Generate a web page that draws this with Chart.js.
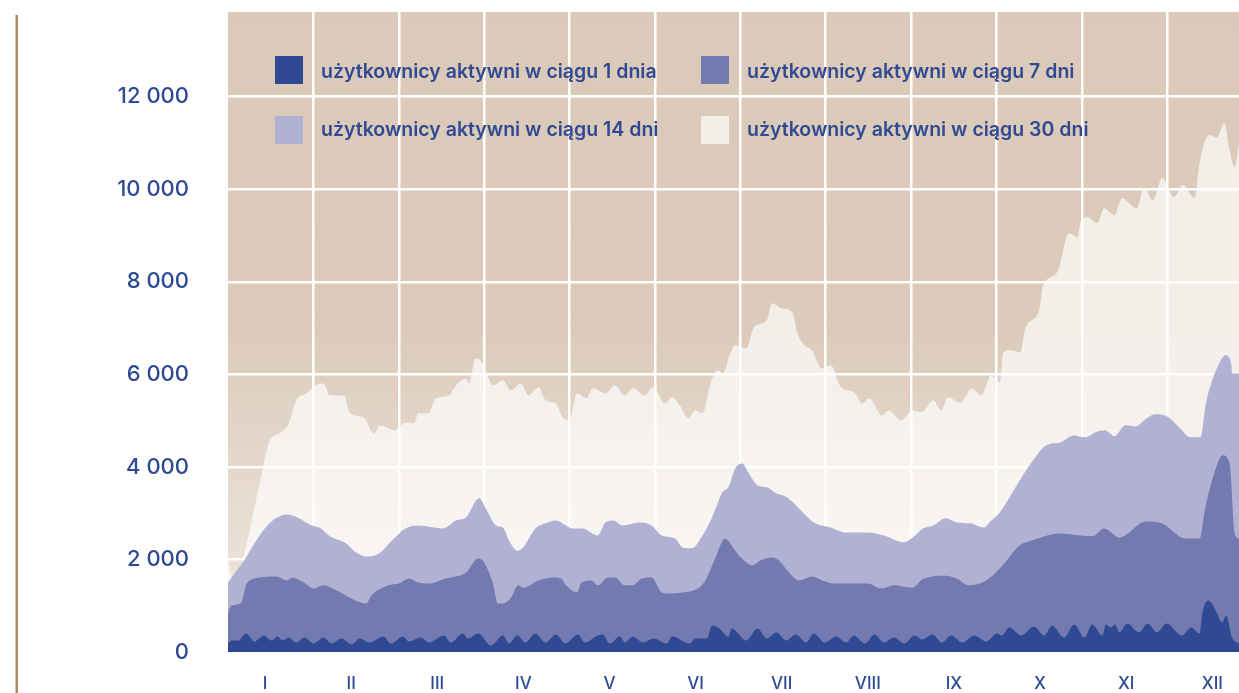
<!DOCTYPE html>
<html lang="pl">
<head>
<meta charset="utf-8">
<title>Użytkownicy aktywni</title>
<script src="https://cdn.jsdelivr.net/npm/chart.js@4.4.1/dist/chart.umd.min.js"></script>
<style>
  html, body { margin: 0; padding: 0; background: #ffffff; }
  #wrap { width: 1239px; height: 693px; }
</style>
</head>
<body>
<div id="wrap"><canvas id="activeChart" width="1239" height="693"></canvas></div>
<script>
// --------------------------------
// Data (x = position in months, 0 = 1 January)
// --------------------------------
const monthLabels = ['I', 'II', 'III', 'IV', 'V', 'VI', 'VII', 'VIII', 'IX', 'X', 'XI', 'XII'];
const monthBounds = [1, 2, 3, 4, 5, 6, 7, 8, 9, 10, 11];
const yTicks = [0, 2000, 4000, 6000, 8000, 10000, 12000];

const seriesLabels = [
    'użytkownicy aktywni w ciągu 1 dnia',
    'użytkownicy aktywni w ciągu 7 dni',
    'użytkownicy aktywni w ciągu 14 dni',
    'użytkownicy aktywni w ciągu 30 dni'
];

// active within 1 day
const x1 = [0, 0.04, 0.12, 0.21, 0.31, 0.42, 0.51, 0.58, 0.64, 0.71, 0.80, 0.90, 1.00, 1.12, 1.21, 1.33, 1.45, 1.54, 1.66, 1.82,
    1.91, 2.05, 2.12, 2.26, 2.35, 2.53, 2.61, 2.75, 2.81, 2.93, 3.08, 3.22, 3.29, 3.39, 3.48, 3.60, 3.72, 3.84, 3.95, 4.10,
    4.18, 4.33, 4.39, 4.47, 4.59, 4.65, 4.74, 4.86, 4.98, 5.14, 5.20, 5.41, 5.47, 5.61, 5.67, 5.74, 5.86, 5.90, 5.94, 6.07,
    6.20, 6.31, 6.42, 6.54, 6.65, 6.77, 6.86, 6.99, 7.12, 7.24, 7.33, 7.46, 7.57, 7.68, 7.80, 7.92, 8.04, 8.13, 8.25, 8.36,
    8.47, 8.60, 8.74, 8.88, 9.01, 9.06, 9.15, 9.29, 9.44, 9.56, 9.65, 9.79, 9.91, 10.03, 10.12, 10.24, 10.28, 10.34, 10.39, 10.44,
    10.53, 10.67, 10.77, 10.88, 10.99, 11.17, 11.28, 11.38, 11.41, 11.48, 11.58, 11.64, 11.69, 11.76, 11.84];
const v1 = [184, 249, 249, 400, 227, 357, 249, 335, 249, 313, 205, 313, 184, 313, 184, 292, 162, 292, 205, 335,
    184, 335, 227, 313, 205, 357, 205, 400, 292, 400, 141, 357, 184, 357, 205, 400, 205, 378, 184, 378,
    205, 357, 378, 184, 335, 205, 335, 205, 292, 184, 335, 184, 292, 292, 573, 530, 335, 508, 465, 249,
    508, 292, 422, 249, 378, 205, 400, 205, 335, 205, 357, 184, 378, 205, 313, 184, 357, 270, 378, 205,
    357, 205, 357, 227, 400, 357, 530, 357, 551, 357, 573, 313, 595, 313, 595, 357, 595, 530, 595, 422,
    616, 422, 616, 422, 616, 357, 530, 400, 832, 1113, 854, 638, 789, 313, 184];

// active within 7 days
const x7 = [0, 0.04, 0.15, 0.22, 0.37, 0.57, 0.69, 0.75, 0.89, 1.00, 1.12, 1.27, 1.62, 1.68, 1.88, 2.00, 2.12, 2.23, 2.35, 2.55,
    2.79, 2.93, 2.98, 3.10, 3.16, 3.22, 3.31, 3.40, 3.46, 3.64, 3.81, 3.90, 3.96, 4.09, 4.14, 4.26, 4.33, 4.45, 4.53, 4.65,
    4.73, 4.85, 4.96, 5.08, 5.15, 5.32, 5.50, 5.59, 5.71, 5.82, 5.94, 6.02, 6.14, 6.24, 6.37, 6.45, 6.55, 6.69, 6.84, 6.96,
    7.10, 7.33, 7.49, 7.65, 7.80, 8.01, 8.15, 8.41, 8.53, 8.68, 8.88, 9.07, 9.27, 9.42, 9.73, 10.12, 10.26, 10.44, 10.75, 10.91,
    11.22, 11.38, 11.44, 11.55, 11.65, 11.73, 11.79, 11.84];
const v7 = [830, 1005, 1050, 1480, 1610, 1630, 1545, 1610, 1500, 1370, 1440, 1330, 1050, 1220, 1440, 1480, 1590, 1500, 1480, 1590,
    1720, 2020, 1980, 1500, 1050, 1050, 1160, 1440, 1390, 1545, 1610, 1590, 1440, 1285, 1500, 1545, 1440, 1610, 1610, 1440,
    1440, 1590, 1610, 1285, 1265, 1285, 1370, 1545, 2040, 2450, 2190, 2020, 1870, 1980, 2040, 1980, 1760, 1545, 1630, 1545,
    1480, 1480, 1480, 1370, 1440, 1390, 1590, 1650, 1590, 1440, 1545, 1870, 2300, 2410, 2560, 2500, 2670, 2475, 2820, 2800,
    2450, 2450, 3060, 3860, 4250, 4075, 2560, 2450];

// active within 14 days
const x14 = [0, 0.21, 0.28, 0.44, 0.56, 0.69, 0.83, 0.97, 1.09, 1.18, 1.38, 1.50, 1.62, 1.77, 1.92, 2.08, 2.23, 2.52, 2.67, 2.79,
    2.94, 3.02, 3.14, 3.22, 3.29, 3.39, 3.45, 3.60, 3.72, 3.84, 3.96, 4.03, 4.15, 4.33, 4.42, 4.51, 4.62, 4.82, 4.96, 5.08,
    5.24, 5.32, 5.43, 5.50, 5.67, 5.79, 5.86, 5.94, 6.02, 6.10, 6.20, 6.31, 6.42, 6.55, 6.71, 6.86, 7.06, 7.22, 7.49, 7.68,
    7.92, 8.02, 8.14, 8.26, 8.41, 8.53, 8.69, 8.85, 8.94, 9.04, 9.20, 9.31, 9.45, 9.58, 9.75, 9.90, 10.04, 10.16, 10.27, 10.38,
    10.51, 10.63, 10.73, 10.86, 11.00, 11.14, 11.27, 11.39, 11.45, 11.53, 11.62, 11.68, 11.75, 11.76, 11.84];
const v14 = [1500, 2040, 2260, 2690, 2890, 2970, 2890, 2740, 2670, 2520, 2350, 2150, 2065, 2130, 2410, 2670, 2735, 2670, 2840, 2910,
    3320, 3100, 2735, 2690, 2410, 2190, 2240, 2670, 2780, 2840, 2735, 2670, 2670, 2520, 2800, 2840, 2735, 2800, 2735, 2520,
    2450, 2260, 2240, 2350, 2910, 3450, 3560, 3970, 4075, 3860, 3600, 3560, 3430, 3340, 3060, 2800, 2690, 2585, 2585, 2520,
    2370, 2480, 2670, 2735, 2890, 2800, 2780, 2690, 2840, 3020, 3490, 3820, 4200, 4465, 4530, 4680, 4640, 4750, 4790, 4660,
    4900, 4875, 5005, 5135, 5090, 4855, 4640, 4640, 5350, 5890, 6280, 6410, 6220, 6020, 6020];

// active within 30 days
const x30 = [0, 0.08, 0.22, 0.37, 0.49, 0.60, 0.71, 0.80, 0.92, 1.02, 1.12, 1.19, 1.36, 1.43, 1.59, 1.71, 1.78, 1.95, 2.08, 2.18,
    2.23, 2.35, 2.43, 2.59, 2.67, 2.79, 2.82, 2.90, 2.96, 3.05, 3.10, 3.22, 3.31, 3.43, 3.52, 3.64, 3.72, 3.84, 3.92, 4.00,
    4.09, 4.20, 4.27, 4.42, 4.53, 4.65, 4.74, 4.88, 4.98, 5.12, 5.20, 5.29, 5.39, 5.47, 5.56, 5.65, 5.73, 5.80, 5.88, 5.94,
    6.07, 6.16, 6.31, 6.37, 6.48, 6.61, 6.67, 6.75, 6.84, 6.95, 7.06, 7.18, 7.33, 7.43, 7.51, 7.66, 7.74, 7.88, 8.02, 8.12,
    8.26, 8.35, 8.43, 8.58, 8.71, 8.82, 8.94, 9.04, 9.08, 9.17, 9.28, 9.34, 9.50, 9.54, 9.71, 9.85, 9.95, 9.99, 10.07, 10.18,
    10.26, 10.38, 10.47, 10.64, 10.73, 10.83, 10.94, 11.08, 11.18, 11.32, 11.38, 11.49, 11.58, 11.67, 11.73, 11.79, 11.84];
const v30 = [1910, 1480, 2350, 3640, 4570, 4720, 4940, 5440, 5590, 5760, 5800, 5550, 5540, 5160, 5070, 4720, 4900, 4790, 4960, 4940,
    5160, 5160, 5480, 5545, 5760, 5910, 5800, 6345, 6300, 5935, 5760, 5870, 5650, 5800, 5545, 5720, 5440, 5370, 5070, 5005,
    5590, 5480, 5700, 5590, 5760, 5545, 5700, 5545, 5720, 5370, 5500, 5330, 5050, 5220, 5160, 5800, 6090, 6020, 6450, 6630,
    6560, 7020, 7170, 7535, 7430, 7340, 6890, 6630, 6520, 6130, 6190, 5720, 5610, 5370, 5480, 5110, 5220, 5005, 5220, 5180,
    5440, 5220, 5500, 5390, 5700, 5545, 5980, 5830, 6475, 6520, 6475, 7020, 7380, 7880, 8205, 9050, 8960, 9330, 9395, 9265,
    9590, 9440, 9805, 9590, 10040, 9760, 10240, 9830, 10090, 9805, 10580, 11170, 11120, 11430, 10840, 10475, 10990];

// --------------------------------
// Styling
// --------------------------------
const textColor = '#2f4a93';
const gridColor = '#ffffff';
const seriesColors = ['#2f4a93', '#737aaf', '#b0b1d3', 'rgba(255, 255, 255, 0.68)'];
const fontFamily = 'Inter, "Noto Sans", sans-serif';

function toPoints(xs, ys) {
    return xs.map((x, i) => ({ x: x, y: ys[i] }));
}

function formatThousands(v) {
    return String(v).replace(/\B(?=(\d{3})+(?!\d))/g, ' ');
}

// tan plot background with a soft fade towards the bottom, plus the thin rule on the left
const plotBackground = {
    id: 'plotBackground',
    beforeDraw(chart) {
        const ctx = chart.ctx;
        const a = chart.chartArea;
        const g = ctx.createLinearGradient(0, a.top, 0, a.bottom);
        g.addColorStop(0, '#dbcab9');
        g.addColorStop(0.5, '#dccbbb');
        g.addColorStop(1, '#f0eae4');
        ctx.save();
        ctx.fillStyle = g;
        ctx.fillRect(a.left, a.top, a.right - a.left, a.bottom - a.top);
        ctx.fillStyle = '#a48a66';
        ctx.fillRect(15.5, 15, 2.5, chart.height - 15);
        ctx.restore();
    }
};

// legend drawn inside the plot, two columns by two rows
const insideLegend = {
    id: 'insideLegend',
    afterDraw(chart) {
        const ctx = chart.ctx;
        const a = chart.chartArea;
        const cols = [a.left + 47, a.left + 473];
        const rows = [a.top + 44, a.top + 104];
        const baselines = [22, 20];
        ctx.save();
        ctx.font = '600 19.5px ' + fontFamily;
        ctx.textBaseline = 'alphabetic';
        chart.data.datasets.forEach((ds, i) => {
            const r = Math.floor(i / 2);
            const cx = cols[i % 2];
            const cy = rows[r];
            ctx.fillStyle = ds.backgroundColor;
            ctx.fillRect(cx, cy, 28, 28);
            ctx.fillStyle = textColor;
            ctx.fillText(ds.label, cx + 46, cy + baselines[r]);
        });
        ctx.restore();
    }
};

const datasets = [
    { label: seriesLabels[0], data: toPoints(x1, v1) },
    { label: seriesLabels[1], data: toPoints(x7, v7) },
    { label: seriesLabels[2], data: toPoints(x14, v14) },
    { label: seriesLabels[3], data: toPoints(x30, v30) }
].map((ds, i) => Object.assign(ds, {
    backgroundColor: seriesColors[i],
    borderWidth: 0,
    pointRadius: 0,
    fill: 'origin',
    cubicInterpolationMode: 'monotone'
}));

const ctx = document.getElementById('activeChart').getContext('2d');
const activeChart = new Chart(ctx, {
    type: 'line',
    data: { datasets: datasets },
    options: {
        responsive: false,
        animation: false,
        events: [],
        layout: { padding: { top: 12, left: 0, right: 0, bottom: 0 } },
        plugins: {
            legend: { display: false },
            tooltip: { enabled: false }
        },
        scales: {
            x: {
                type: 'linear',
                position: 'bottom',
                weight: 0,
                min: 0,
                max: 11.84,
                afterBuildTicks: s => { s.ticks = monthBounds.map(v => ({ value: v })); },
                afterFit: s => {
                    s.height = 0;
                    s.paddingLeft = 0; s.paddingRight = 0;
                },
                grid: { color: gridColor, lineWidth: 2.5, drawTicks: false },
                border: { display: false },
                ticks: { display: false }
            },
            x2: {
                type: 'linear',
                position: 'bottom',
                weight: 1,
                min: -0.43,
                max: 11.31,
                afterBuildTicks: s => { s.ticks = monthLabels.map((l, i) => ({ value: i })); },
                afterFit: s => {
                    s.height = 41;
                    s.paddingLeft = 0; s.paddingRight = 0;
                },
                grid: { display: false, drawTicks: false },
                border: { display: false },
                ticks: {
                    autoSkip: false,
                    maxRotation: 0,
                    padding: 22,
                    color: textColor,
                    font: { family: fontFamily, size: 17, weight: '500' },
                    callback: (v, i) => monthLabels[i]
                }
            },
            y: {
                min: 0,
                max: 13830,
                afterBuildTicks: s => { s.ticks = yTicks.map(v => ({ value: v })); },
                afterFit: s => {
                    s.width = 228;
                    s.paddingTop = 0; s.paddingBottom = 0;
                },
                grid: { color: gridColor, lineWidth: 2.5, drawTicks: false },
                border: { display: false },
                ticks: {
                    padding: 39,
                    color: textColor,
                    font: { family: fontFamily, size: 22, weight: '500' },
                    callback: v => formatThousands(v)
                }
            }
        }
    },
    plugins: [plotBackground, insideLegend]
});
</script>
</body>
</html>
